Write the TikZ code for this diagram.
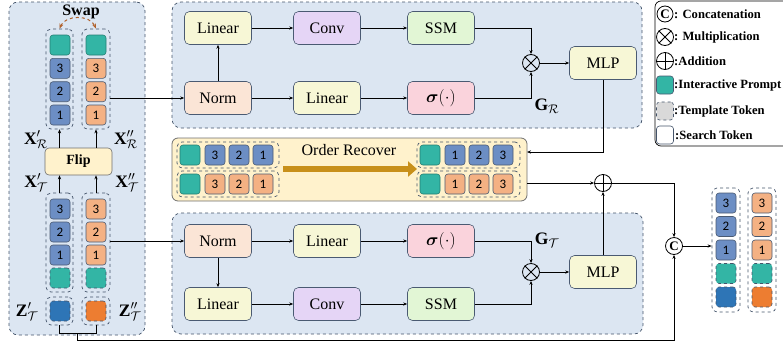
\documentclass[tikz,border=0pt]{standalone}
\usepackage{bm}
\usepackage{fontspec}
\setmainfont{Liberation Serif}
\newfontfamily\numfont{Carlito}
\usetikzlibrary{arrows.meta,calc}
\definecolor{panelfill}{HTML}{DCE6F2}
\definecolor{panelborder}{HTML}{44546A}
\definecolor{blkborder}{HTML}{4A5A72}
\definecolor{tokblue}{HTML}{6C8EC4}
\definecolor{tokorange}{HTML}{F4B183}
\definecolor{tokteal}{HTML}{33B5A5}
\definecolor{zblue}{HTML}{2E75B6}
\definecolor{zorange}{HTML}{ED7D31}
\definecolor{recfill}{HTML}{FFF2CC}
\definecolor{recborder}{HTML}{6F6F6F}
\definecolor{goldarrow}{HTML}{C8901A}
\definecolor{normfill}{HTML}{FBE5D6}
\definecolor{linfill}{HTML}{F7F7D6}
\definecolor{convfill}{HTML}{E5D5F6}
\definecolor{ssmfill}{HTML}{E2F6D5}
\definecolor{sigfill}{HTML}{FAD3DC}
\definecolor{swapbrown}{HTML}{B0602A}
\definecolor{tmplgray}{HTML}{D9D9D9}
\begin{document}
\begin{tikzpicture}[x=1pt,y=-1pt,
  panel/.style={draw=panelborder, fill=panelfill, dashed, rounded corners=9pt, line width=0.7pt, inner sep=0pt},
  blk/.style={draw=blkborder, rounded corners=5pt, minimum width=67pt, minimum height=33pt, inner sep=0pt, line width=0.6pt, font=\fontsize{16}{16}\selectfont},
  cell/.style={draw=blkborder, rounded corners=3pt, minimum width=20pt, minimum height=20pt, inner sep=0pt, line width=0.6pt, font=\numfont\fontsize{13}{13}\selectfont},
  cb/.style={cell, fill=tokblue},
  co/.style={cell, fill=tokorange},
  ct/.style={cell, fill=tokteal, draw=tokteal!70!black},
  ctd/.style={cell, fill=tokteal, dashed, draw=panelborder},
  grp/.style={draw=panelborder, dashed, rounded corners=5pt, line width=0.7pt, inner sep=0pt},
  arr/.style={-{Stealth[length=4pt,width=3.2pt]}, line width=0.7pt},
  ln/.style={line width=0.7pt},
  op/.style={circle, draw, minimum size=17pt, inner sep=0pt, line width=0.8pt},
  lab/.style={font=\fontsize{14}{14}\selectfont, inner sep=0pt, scale=1.25},
  leg/.style={anchor=west, font=\bfseries\fontsize{12.6}{12.6}\selectfont, inner sep=0pt}
]
\useasboundingbox (0,0) rectangle (783,343);

% ---------- panels ----------
\node[panel, minimum width=136pt, minimum height=333pt] (swapp) at (77,168.5) {};
\node[panel, minimum width=470pt, minimum height=126pt] (toppanel) at (407,65) {};
\node[panel, minimum width=471pt, minimum height=121pt] (botpanel) at (407.5,273.5) {};

% ---------- Swap panel ----------
\node[font=\bfseries\fontsize{16}{16}\selectfont] (swaptxt) at (81,12) {Swap};
\node[grp, minimum width=27pt, minimum height=100pt] (gLu) at (59.5,79) {};
\node[grp, minimum width=28pt, minimum height=100pt] (gRu) at (96,79) {};
\node[ct] (lu0) at (60,45) {};
\node[cb] (lu3) at (60,68.3) {3};
\node[cb] (lu2) at (60,91.7) {2};
\node[cb] (lu1) at (60,115) {1};
\node[ct] (ru0) at (96,45) {};
\node[co] (ru3) at (96,68.3) {3};
\node[co] (ru2) at (96,91.7) {2};
\node[co] (ru1) at (96,115) {1};
\draw[swapbrown, dashed, line width=1pt, {Stealth[length=5pt,width=4pt]}-{Stealth[length=5pt,width=4pt]}]
  (gLu.north) .. controls +(6,-14) and +(-6,-14) .. (gRu.north);

\node[draw=recborder, fill=recfill, rounded corners=4pt, minimum width=67pt, minimum height=27pt, inner sep=0pt, line width=0.6pt, font=\bfseries\fontsize{14}{14}\selectfont] (flip) at (78.5,161.5) {Flip};

\node[grp, minimum width=27pt, minimum height=99pt] (gLl) at (59.5,242.5) {};
\node[grp, minimum width=28pt, minimum height=99pt] (gRl) at (96,242.5) {};
\node[cb] (ll3) at (60,209) {3};
\node[cb] (ll2) at (60,232) {2};
\node[cb] (ll1) at (60,255) {1};
\node[ctd] (ll0) at (60,278) {};
\node[co] (rl3) at (96,209) {3};
\node[co] (rl2) at (96,232) {2};
\node[co] (rl1) at (96,255) {1};
\node[ctd] (rl0) at (96,278) {};

\node[grp, minimum width=27pt, minimum height=28pt] (zL) at (59.5,311) {};
\node[grp, minimum width=28pt, minimum height=28pt] (zR) at (96,311) {};
\node[cell, fill=zblue, dashed, draw=panelborder] (zLc) at (60,311) {};
\node[cell, fill=zorange, dashed, draw=panelborder] (zRc) at (96,311) {};

\node[lab] (xRp) at (36,140) {$\mathbf{X}'_{\mathcal{R}}$};
\node[lab] (xRpp) at (126,140) {$\mathbf{X}''_{\mathcal{R}}$};
\node[lab] (xTp) at (36,183) {$\mathbf{X}'_{\mathcal{T}}$};
\node[lab] (xTpp) at (127,183) {$\mathbf{X}''_{\mathcal{T}}$};
\node[lab] (zTp) at (27,312) {$\mathbf{Z}'_{\mathcal{T}}$};
\node[lab] (zTpp) at (130,312) {$\mathbf{Z}''_{\mathcal{T}}$};

\draw[arr] (flip.north -| gLu) -- (gLu.south);
\draw[arr] (flip.north -| gRu) -- (gRu.south);
\draw[arr] (gLl.north) -- (flip.south -| gLl);
\draw[arr] (gRl.north) -- (flip.south -| gRl);

% ---------- top branch ----------
\node[blk, fill=linfill] (lin1) at (218,28) {Linear};
\node[blk, fill=convfill] (conv1) at (327,28) {Conv};
\node[blk, fill=ssmfill] (ssm1) at (441,28) {SSM};
\node[blk, fill=normfill] (norm1) at (218,98) {Norm};
\node[blk, fill=linfill] (lin2) at (327,98) {Linear};
\node[blk, fill=sigfill] (sig1) at (441,98) {$\bm{\sigma}(\cdot)$};
\node[op] (mul1) at (531,63) {};
\draw[line width=0.8pt] (mul1.north west) -- (mul1.south east) (mul1.north east) -- (mul1.south west);
\node[blk, fill=linfill] (mlp1) at (603,63) {MLP};
\node[lab] (gR) at (547,106) {$\mathbf{G}_{\mathcal{R}}$};

\draw[arr] (norm1.west -| gRu.east) -- (norm1.west);
\draw[arr] (norm1) -- (lin1);
\draw[arr] (lin1) -- (conv1);
\draw[arr] (conv1) -- (ssm1);
\draw[arr] (norm1) -- (lin2);
\draw[arr] (lin2) -- (sig1);
\draw[arr] (ssm1.east) -| (mul1.north);
\draw[arr] (sig1.east) -| (mul1.south);
\draw[arr] (mul1) -- (mlp1);

% ---------- order recover ----------
\node[draw=recborder, fill=recfill, rounded corners=6pt, minimum width=355pt, minimum height=63pt, inner sep=0pt, line width=0.8pt] (recover) at (349.5,169.5) {};
\node[grp, minimum width=102pt, minimum height=26pt] (rA) at (228,155) {};
\node[grp, minimum width=102pt, minimum height=26pt] (rB) at (228,184) {};
\node[grp, minimum width=103pt, minimum height=26pt] (rC) at (468.5,155) {};
\node[grp, minimum width=103pt, minimum height=26pt] (rD) at (468.5,184) {};
\node[ct] (a0) at (190,155) {};
\node[cb] (a3) at (215,155) {3};
\node[cb] (a2) at (239,155) {2};
\node[cb] (a1) at (263,155) {1};
\node[ct] (b0) at (190,184) {};
\node[co] (b3) at (215,184) {3};
\node[co] (b2) at (239,184) {2};
\node[co] (b1) at (263,184) {1};
\node[ct] (c0) at (430,155) {};
\node[cb] (c1) at (455,155) {1};
\node[cb] (c2) at (479,155) {2};
\node[cb] (c3) at (503,155) {3};
\node[ct] (d0) at (430,184) {};
\node[co] (d1) at (455,184) {1};
\node[co] (d2) at (479,184) {2};
\node[co] (d3) at (503,184) {3};
\node[font=\fontsize{16}{16}\selectfont] (ortxt) at (349,150) {Order Recover};
\coordinate (gaS) at (283,169);
\coordinate (gaE) at (417,169);
\draw[goldarrow, line width=6pt, -{Triangle[length=9pt,width=15pt]}] (gaS) -- (gaE);

% ---------- bottom branch ----------
\node[blk, fill=normfill] (norm2) at (218,241) {Norm};
\node[blk, fill=linfill] (lin3) at (327,241) {Linear};
\node[blk, fill=sigfill] (sig2) at (441,241) {$\bm{\sigma}(\cdot)$};
\node[blk, fill=linfill] (lin4) at (218,304) {Linear};
\node[blk, fill=convfill] (conv2) at (327,304) {Conv};
\node[blk, fill=ssmfill] (ssm2) at (441,304) {SSM};
\node[op] (mul2) at (531,272) {};
\draw[line width=0.8pt] (mul2.north west) -- (mul2.south east) (mul2.north east) -- (mul2.south west);
\node[blk, fill=linfill] (mlp2) at (603,272) {MLP};
\node[lab] (gT) at (547,240) {$\mathbf{G}_{\mathcal{T}}$};

\draw[arr] (norm2.west -| gRl.east) -- (norm2.west);
\draw[arr] (norm2) -- (lin4);
\draw[arr] (norm2) -- (lin3);
\draw[arr] (lin3) -- (sig2);
\draw[arr] (lin4) -- (conv2);
\draw[arr] (conv2) -- (ssm2);
\draw[arr] (sig2.east) -| (mul2.north);
\draw[arr] (ssm2.east) -| (mul2.south);
\draw[arr] (mul2) -- (mlp2);

% ---------- merge ----------
\node[op] (plus) at (603,183) {};
\draw[line width=0.8pt] (plus.north) -- (plus.south) (plus.west) -- (plus.east);
\node[op, font=\bfseries\fontsize{13}{13}\selectfont] (cat) at (674,246) {C};

\coordinate (rin) at (527,152);
\draw[arr] (mlp1.south) |- (rin);
\draw[arr] (recover.east |- plus) -- (plus.west);
\draw[arr] (mlp2.north) -- (plus.south);
\draw[arr] (plus.east) -| (cat.north);

\coordinate (br) at ($(zL.south)!0.5!(zR.south)+(0,8)$);
\draw[ln] (zL.south) -- ++(0,8) -| (zR.south);
\draw[arr] (br) -- ++(0,7) -| (cat.south);

% ---------- output stacks ----------
\node[grp, minimum width=28pt, minimum height=124pt] (s1) at (726,250) {};
\node[grp, minimum width=28pt, minimum height=124pt] (s2) at (762,250) {};
\node[cb] (s13) at (726,203) {3};
\node[cb] (s12) at (726,226.5) {2};
\node[cb] (s11) at (726,250) {1};
\node[ctd] (s10) at (726,273.5) {};
\node[cell, fill=zblue, dashed, draw=panelborder] (s1z) at (726,297) {};
\node[co] (s23) at (762,203) {3};
\node[co] (s22) at (762,226.5) {2};
\node[co] (s21) at (762,250) {1};
\node[ctd] (s20) at (762,273.5) {};
\node[cell, fill=zorange, dashed, draw=panelborder] (s2z) at (762,297) {};
\draw[arr] (cat.east) -- (cat.east -| s1.west);

% ---------- legend ----------
\draw[line width=0.7pt, rounded corners=6pt] (655,1) rectangle (800,146);
\node[op, minimum size=16pt, font=\bfseries\fontsize{13}{13}\selectfont] (legC) at (665,14) {C};
\node[leg] (legCt) at (674,14) {: Concatenation};
\node[op, minimum size=17pt] (legX) at (665,37) {};
\draw[line width=0.8pt] (legX.north west) -- (legX.south east) (legX.north east) -- (legX.south west);
\node[leg] (legXt) at (674,37) {: Multiplication};
\node[op, minimum size=17pt] (legP) at (665,61) {};
\draw[line width=0.8pt] (legP.north) -- (legP.south) (legP.west) -- (legP.east);
\node[leg] (legPt) at (674,61) {:Addition};
\node[cell, fill=tokteal, minimum width=17pt, minimum height=18pt] (legI) at (665,85) {};
\node[leg] (legIt) at (674,85) {:Interactive Prompt};
\node[cell, fill=tmplgray, dashed, draw=panelborder, minimum width=17pt, minimum height=18pt] (legT) at (665,111) {};
\node[leg] (legTt) at (674,111) {:Template Token};
\node[cell, fill=white, draw=panelborder, minimum width=17pt, minimum height=18pt] (legS) at (665,135) {};
\node[leg] (legSt) at (675,135) {:Search Token};
\end{tikzpicture}
\end{document}
